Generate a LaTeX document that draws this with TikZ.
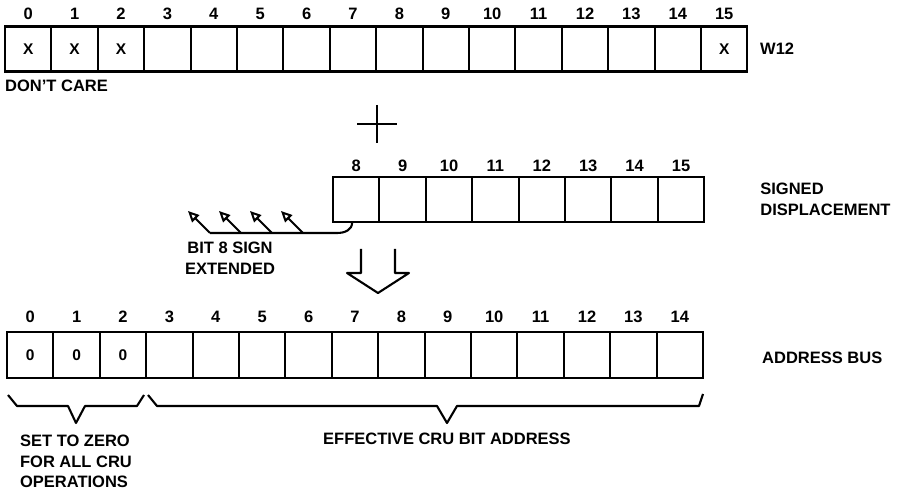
\documentclass[tikz,border=0pt]{standalone}
\usepackage{fontspec}
\setmainfont{Liberation Sans}
\usetikzlibrary{arrows.meta,positioning,calc}

\begin{document}
\begin{tikzpicture}[
    x=1pt, y=-1pt,
    font=\fontsize{16.5}{20.5}\selectfont\bfseries,
    cell/.style={draw, line width=2.1pt, minimum width=46.4pt, minimum height=45pt, inner sep=0pt, outer sep=0pt},
    bitnum/.style={inner sep=0pt},
    val/.style={inner sep=0pt, font=\fontsize{15.5}{17}\selectfont\bfseries},
    txt/.style={inner sep=0pt, align=left},
    line/.style={line width=2.1pt, line join=round},
    ext/.style={-{Triangle[open, length=11pt, width=10pt, line width=2pt]}, line width=2pt}
]
\useasboundingbox (0,0) rectangle (898,494);

% W12 register
\foreach \i in {0,...,15}
    \node[cell, label={[bitnum, label distance=7pt]above:\i}] (w\i) at ({28.2+46.4*\i}, 49) {};
\foreach \i in {0,1,2,15}
    \node[val] (wx\i) at (w\i) {X};
\node[txt, right=12.6pt of w15] (wname) {W12};
\node[txt, below right=8pt and 0pt of w0.south west] (dc) {DON'T CARE};

% plus
\coordinate (plus) at (377,124);
\draw[line] (plus) ++(-20,0) -- ++(40,0);
\draw[line] (plus) ++(0,-19) -- ++(0,38);

% signed displacement
\foreach \i in {8,...,15}
    \node[cell, label={[bitnum, label distance=5pt]above:\i}] (d\i) at ({356.2+46.4*(\i-8)}, 199.5) {};
\node[txt, right=56pt of d15] (dname) {SIGNED\\DISPLACEMENT};

% sign extension
\foreach \x [count=\k] in {210,241,272,303} {
    \coordinate (t\k) at (\x,233);
    \coordinate (h\k) at (\x-22,211);
}
\draw[line] ([xshift=-4pt]d8.south) .. controls +(0,8) and +(8,0) .. (337,233) -- (t1);
\foreach \k in {1,...,4}
    \draw[ext] (t\k) -- (h\k);
\node[txt, align=center, anchor=north] (sgn) at (230,242) {BIT 8 SIGN\\EXTENDED};

% hollow arrow
\coordinate (dn) at (378,249);
\draw[line] (dn) ++(-17,0) -- ++(0,24) -- ++(-14,0) -- ++(31,20) -- ++(31,-20) -- ++(-14,0) -- ++(0,-24);

% address bus
\foreach \i in {0,...,14}
    \node[cell, minimum height=46pt, label={[bitnum, label distance=9pt]above:\i}] (a\i) at ({30.2+46.4*\i}, 355) {};
\foreach \i in {0,1,2}
    \node[val] (az\i) at (a\i) {0};
\node[txt, right=59pt of a14, yshift=-3pt] (aname) {ADDRESS BUS};

% braces
\coordinate (b1) at (76,423);
\coordinate (b2) at (447,423);
\draw[line] (8,395) -- (17,406) -- (68,406) -- (b1) -- (85,406) -- (137,406) -- (144,395);
\draw[line] (148,395) -- (157,406) -- (437,406) -- (b2) -- (457,406) -- (699,406) -- (703,394);
\node[txt, below=12pt of b1] (zero) {SET TO ZERO\\FOR ALL CRU\\OPERATIONS};
\node[txt, below=10pt of b2] (eff) {EFFECTIVE CRU BIT ADDRESS};
\end{tikzpicture}
\end{document}
